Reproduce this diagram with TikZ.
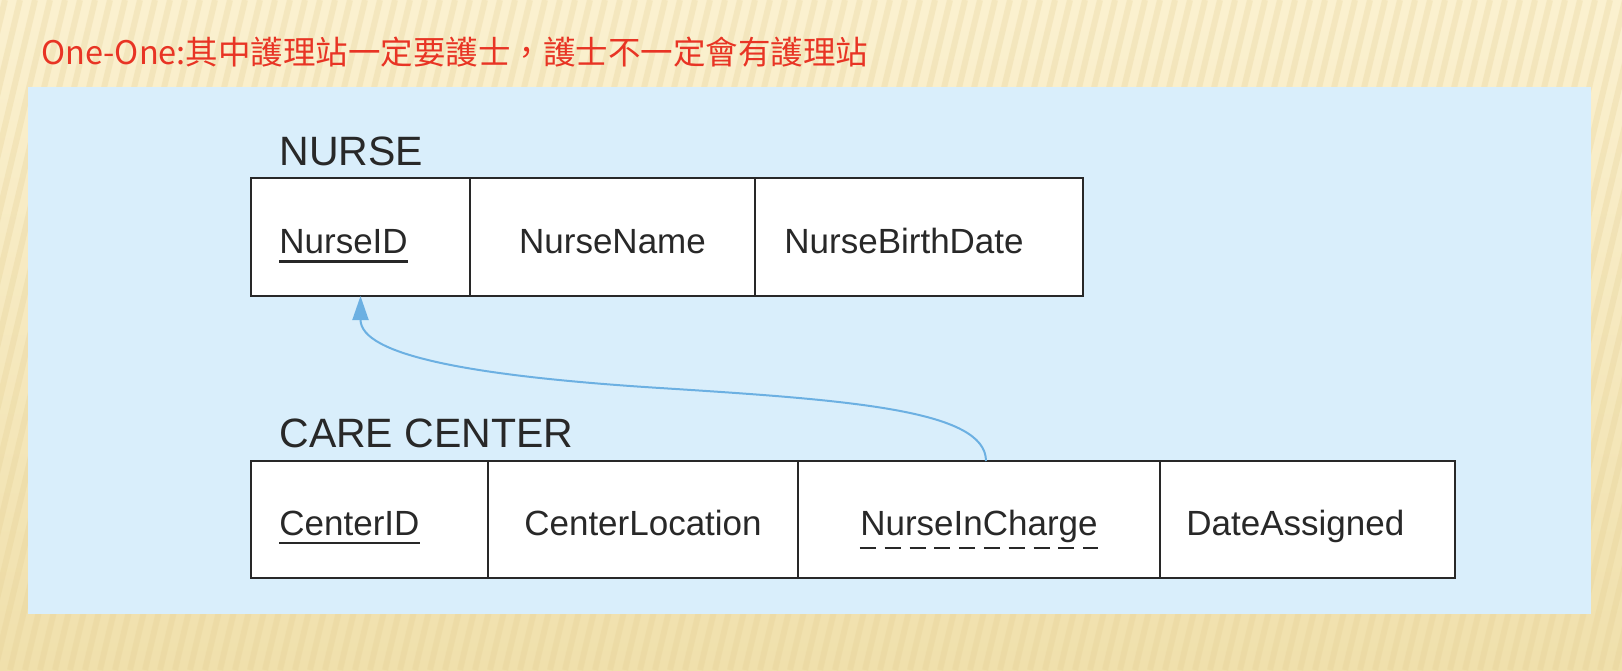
\documentclass[tikz,border=0pt]{standalone}
\usepackage{fontspec}
\setmainfont{Liberation Sans}
\newfontfamily\cjk{Noto Sans CJK TC}
\usetikzlibrary{positioning,arrows.meta}
\definecolor{panelblue}{RGB}{217,238,251}
\definecolor{sandlight}{RGB}{251,241,208}
\definecolor{sanddark}{RGB}{240,224,172}
\definecolor{sandstripe}{RGB}{228,206,146}
\definecolor{titlered}{RGB}{232,52,36}
\definecolor{inkgray}{RGB}{40,40,40}
\definecolor{fkblue}{RGB}{108,176,226}
\tikzset{
  cell/.style={
    draw=inkgray, line width=1.2pt, fill=white,
    inner sep=0pt, outer sep=0pt
  },
  attr/.style={
    font=\fontsize{17.5pt}{20pt}\selectfont, text=inkgray,
    inner sep=0pt, text height=16pt, text depth=0pt
  },
  tablename/.style={
    font=\fontsize{20.5pt}{24pt}\selectfont, text=inkgray, inner sep=0pt
  },
  caption/.style={
    font=\cjk\fontsize{16.25pt}{20pt}\selectfont, text=titlered, inner sep=0pt
  },
  pkline/.style={draw=inkgray, line width=1.2pt},
  fkline/.style={pkline, dash pattern=on 8pt off 4.4pt},
  fkarrow/.style={draw=fkblue, line width=1pt, -{Triangle[length=12pt,width=8pt]}}
}

\begin{document}
\begin{tikzpicture}[x=0.5pt,y=-0.5pt]
  \useasboundingbox (0,0) rectangle (1622,670);
  \shade[top color=sandlight, bottom color=sanddark] (0,0) rectangle (1622,670);
  \begin{scope}
    \clip (0,0) rectangle (1622,670);
    \foreach \s in {-200,-185,...,1640}
      \draw[sandstripe, line width=3pt, opacity=0.28] (\s,670) -- ++(160,-670);
  \end{scope}
  \fill[panelblue] (28,87) rectangle (1591,614);
  \node[caption, anchor=base west] (title) at (41,64)
    {One-One:其中護理站一定要護士，護士不一定會有護理站};
  % NURSE
  \node[cell, anchor=north west, minimum width=109.5pt, minimum height=59pt]
    (nid) at (251,178) {};
  \node[cell, minimum width=142.5pt, minimum height=59pt, right=0pt of nid] (nname) {};
  \node[cell, minimum width=164pt, minimum height=59pt, right=0pt of nname] (nbirth) {};
  \node[tablename, anchor=base west] (nurse) at ([xshift=14pt,yshift=6.25pt]nid.north west) {NURSE};
  \node[attr, anchor=west] (tnid) at ([xshift=14pt]nid.west) {NurseID};
  \node[attr] (tnname) at (nname) {NurseName};
  \node[attr, anchor=west] (tnbirth) at ([xshift=14.5pt]nbirth.west) {NurseBirthDate};
  \draw[pkline] ([yshift=-4pt]tnid.south west) -- ([yshift=-4pt]tnid.south east);
  % CARE CENTER
  \node[cell, anchor=north west, minimum width=118.5pt, minimum height=58.5pt]
    (cid) at (251,461) {};
  \node[cell, minimum width=155pt, minimum height=58.5pt, right=0pt of cid] (cloc) {};
  \node[cell, minimum width=181pt, minimum height=58.5pt, right=0pt of cloc] (nic) {};
  \node[cell, minimum width=147.5pt, minimum height=58.5pt, right=0pt of nic] (dass) {};
  \node[tablename, anchor=base west] (center) at ([xshift=14pt,yshift=7pt]cid.north west) {CARE CENTER};
  \node[attr, anchor=west] (tcid) at ([xshift=14pt]cid.west) {CenterID};
  \node[attr] (tcloc) at (cloc) {CenterLocation};
  \node[attr] (tnic) at (nic) {NurseInCharge};
  \node[attr, anchor=west] (tdass) at ([xshift=13pt]dass.west) {DateAssigned};
  \draw[pkline] ([yshift=-3.6pt]tcid.south west) -- ([yshift=-3.6pt]tcid.south east);
  \draw[fkline] ([yshift=-6pt]tnic.south west) -- ([yshift=-6pt]tnic.south east);
  \coordinate (bend) at (660,388);
  \draw[fkarrow] ([xshift=3.5pt]nic.north) .. controls +(0,-51) and +(190,12) .. (bend)
    .. controls +(-190,-12) and +(0,59) .. (nid.south);
\end{tikzpicture}
\end{document}
